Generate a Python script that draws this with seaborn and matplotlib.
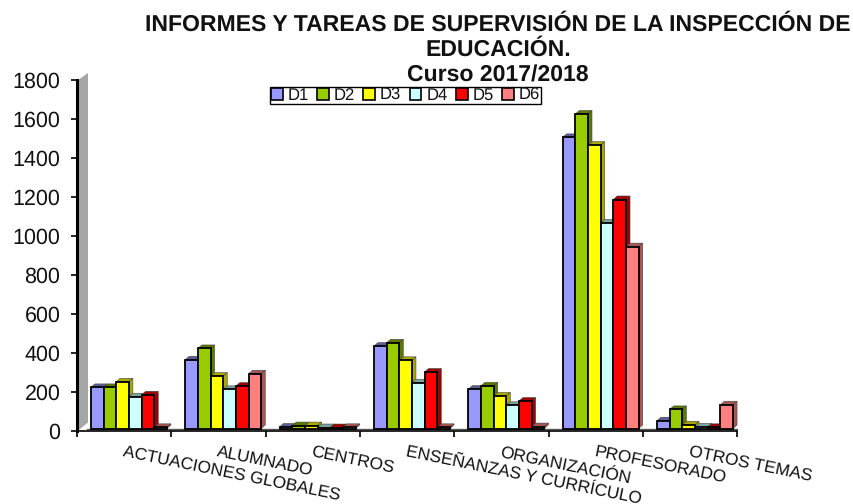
import matplotlib
matplotlib.use('Agg')
import matplotlib.pyplot as plt
from matplotlib.patches import Polygon, Patch
from matplotlib.transforms import ScaledTranslation
import numpy as np
import pandas as pd
import seaborn as sns

categories = ['ACTUACIONES GLOBALES', 'ALUMNADO', 'CENTROS', 'ENSEÑANZAS Y CURRÍCULO',
              'ORGANIZACIÓN', 'PROFESORADO', 'OTROS TEMAS']
series = ['D1', 'D2', 'D3', 'D4', 'D5', 'D6']

d1 = [211, 353, 8, 423, 202, 1495, 40]
d2 = [211, 411, 15, 440, 219, 1615, 98]
d3 = [240, 269, 15, 350, 167, 1455, 19]
d4 = [163, 201, 5, 235, 119, 1056, 8]
d5 = [173, 218, 5, 290, 141, 1176, 6]
d6 = [6, 281, 6, 6, 10, 934, 122]

front_colors = ['#9999FF', '#99CC00', '#FFFF00', '#CCFFFF', '#FF0000', '#FF8080']
side_colors = ['#5C5C99', '#5C7A00', '#A8A800', '#7AA3A3', '#A00000', '#A85555']
y_ticks = list(range(0, 2000, 200))

df = pd.DataFrame({'categoria': categories * 6,
                   'serie': np.repeat(series, 7),
                   'valor': d1 + d2 + d3 + d4 + d5 + d6})

sns.set_theme(style='white')
plt.rcParams['font.family'] = ['Liberation Sans', 'DejaVu Sans']
plt.rcParams['text.hinting'] = 'none'

W, H = 854, 504
DX, DY = 4, 3.5  # depth of the fake 3d bars, px
fig = plt.figure(figsize=(W / 100, H / 100), dpi=100)
ax = fig.add_axes([77 / W, 1 - 430.5 / H, 660.5 / W, 350.5 / H])

sns.barplot(data=df, x='categoria', y='valor', hue='serie', palette=front_colors,
            saturation=1, width=0.806, gap=0, edgecolor='black', linewidth=1.3,
            legend=False, ax=ax, zorder=5)
ax.set_xlim(-0.5, 6.5)
ax.set_ylim(0, 1800)
ax.set_xlabel('')
ax.set_ylabel('')
ax.set_yticks(y_ticks)
ax.tick_params(axis='y', labelsize=15.5, length=4.5, width=1.2, color='black', left=True,
               pad=7.5, labelcolor='#111111')

# category labels start at the category centre and run downhill
ax.set_xticks(range(len(categories)))
ax.set_xticklabels(categories, rotation=-11.5, ha='left', va='top', rotation_mode='anchor',
                   fontsize=12.4, color='#111111')
ax.tick_params(axis='x', length=0, pad=10.5)
ax.set_xticks(np.arange(-0.5, 7, 1), minor=True)
ax.tick_params(axis='x', which='minor', length=4, width=1.2, color='black', bottom=True)

sns.despine(ax=ax, top=True, right=True)
ax.spines['left'].set_linewidth(2.2)
ax.spines['left'].set_color('black')
ax.spines['bottom'].set_linewidth(1.2)
ax.spines['bottom'].set_color('black')
ax.patch.set_alpha(0)

# grey back wall on the left
x0, y0 = ax.transAxes.transform((0, 0))
x1, y1 = ax.transAxes.transform((0, 1))
wall = Polygon([(x0 + 1, y0), (x0 + 11, y0 + 8), (x0 + 11, y1 + 7), (x1 + 1, y1)],
               closed=True, facecolor='#A6A6A6', edgecolor='none',
               transform=None, zorder=1, clip_on=False)
ax.add_artist(wall)
wall.set_clip_on(False)
ax.plot([0.015, 1], [0.004, 0.004], transform=ax.transAxes, color='#555555', lw=1, zorder=2,
        clip_on=False)

# bars sit slightly off the axis, then get top and side faces
shift = ScaledTranslation(4.7 / 100, 2 / 100, fig.dpi_scale_trans)
z = 3.0
for cont, side in zip(ax.containers, side_colors):
    for bar in cont:
        bar.set_transform(ax.transData + shift)
        bar.set_clip_on(False)
        xa = bar.get_x()
        xb = xa + bar.get_width()
        h = bar.get_height()
        (l, b), (r, t) = (ax.transData + shift).transform([(xa, 0), (xb, h)])
        top = Polygon([(l, t), (l + DX, t + DY), (r + DX, t + DY), (r, t)], closed=True,
                      facecolor=side, edgecolor='#444444', linewidth=0.4, transform=None, zorder=z)
        sd = Polygon([(r, b), (r + DX, b + DY), (r + DX, t + DY), (r, t)], closed=True,
                     facecolor=side, edgecolor='#444444', linewidth=0.4, transform=None, zorder=z)
        ax.add_artist(top)
        ax.add_artist(sd)
        top.set_clip_on(False)
        sd.set_clip_on(False)
        z += 0.001

title_lines = ['INFORMES Y TAREAS DE SUPERVISIÓN DE LA INSPECCIÓN DE', 'EDUCACIÓN.', 'Curso 2017/2018']
for line, py in zip(title_lines, [25, 50, 76]):
    fig.text(498 / W, 1 - py / H, line, ha='center', va='center', fontsize=16.6,
             fontweight='bold', color='#111111')

handles = [Patch(facecolor=c, edgecolor='black', linewidth=1.2, label=s)
           for c, s in zip(front_colors, series)]
leg = fig.legend(handles=handles, ncol=6, loc='center', bbox_to_anchor=(405.5 / W, 1 - 95.5 / H),
                 frameon=True, fancybox=False, edgecolor='black', facecolor='white', framealpha=1,
                 fontsize=12, handlelength=0.7, handleheight=0.7, handletextpad=0.3,
                 columnspacing=0.5, borderpad=0.05, borderaxespad=0, labelcolor='#111111')
leg.get_frame().set_linewidth(1)
leg.set_zorder(20)

fig.savefig('out.png', dpi=100)
